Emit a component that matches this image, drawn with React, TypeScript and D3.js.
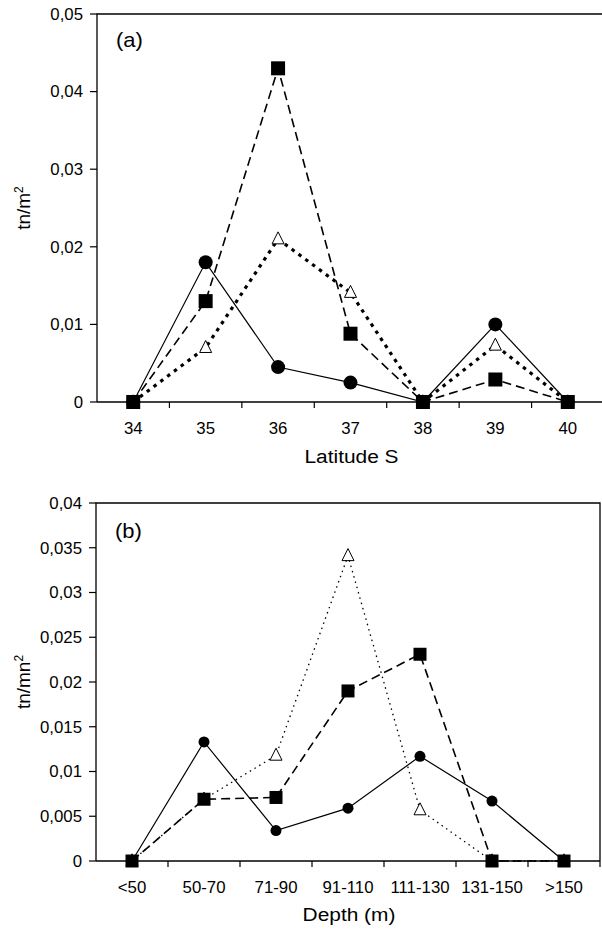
import React from "react";
import * as d3 from "d3";

// ---------- Data ----------
const latitudes = ["34", "35", "36", "37", "38", "39", "40"];
const aCircles = [0, 0.018, 0.0045, 0.0025, 0, 0.01, 0];
const aSquares = [0, 0.013, 0.043, 0.0088, 0, 0.0029, 0];
const aTriangles = [0, 0.007, 0.021, 0.0141, 0, 0.0073, 0];
const aTicks = [0, 0.01, 0.02, 0.03, 0.04, 0.05];
const aTickLabels = ["0", "0,01", "0,02", "0,03", "0,04", "0,05"];

const depths = ["<50", "50-70", "71-90", "91-110", "111-130", "131-150", ">150"];
const bCircles = [0, 0.0133, 0.0034, 0.0059, 0.0117, 0.0067, 0];
const bSquares = [0, 0.0069, 0.0071, 0.019, 0.0231, 0, 0];
const bTriangles = [0, 0.0069, 0.0118, 0.0341, 0.0057, 0, 0];
const bTicks = [0, 0.005, 0.01, 0.015, 0.02, 0.025, 0.03, 0.035, 0.04];
const bTickLabels = ["0", "0,005", "0,01", "0,015", "0,02", "0,025", "0,03", "0,035", "0,04"];

const FONT = "'Liberation Sans', Arial, Helvetica, sans-serif";

function T(props: { x: number; y: number; size: number; sx?: number; anchor?: string; children: React.ReactNode }) {
  return (
    <text
      transform={`translate(${props.x},${props.y}) scale(${props.sx || 1.05},1)`}
      fontSize={props.size}
      textAnchor={props.anchor || "start"}
    >
      {props.children}
    </text>
  );
}

type PanelProps = {
  cats: string[];
  circles: number[];
  squares: number[];
  triangles: number[];
  ticks: number[];
  tickLabels: string[];
  yMax: number;
  left: number;
  right: number;
  top: number;
  bottom: number;
  tag: string;
  tagY: number;
  xTitle: string;
  xTitleY: number;
  yTitle: string;
  yTitleSup: string;
  triDash: string;
  triWidth: number;
  sq: number;
  circR: number;
  tri: number;
};

function Panel(p: PanelProps) {
  const x = d3.scaleBand<string>().domain(p.cats).range([p.left, p.right]);
  const y = d3.scaleLinear().domain([0, p.yMax]).range([p.bottom, p.top]);
  const cx = (c: string) => (x(c) as number) + x.bandwidth() / 2;
  const line = (vals: number[]) =>
    d3.line<number>().x((_, i) => cx(p.cats[i])).y((v) => y(v))(vals) as string;
  const boundaries = p.cats.map((c) => (x(c) as number) + x.bandwidth());
  const tri = p.tri;
  const triPath = (px: number, py: number) =>
    `M${px},${py - tri * 0.6}L${px + tri * 0.5},${py + tri * 0.4}L${px - tri * 0.5},${py + tri * 0.4}Z`;
  const midY = (p.top + p.bottom) / 2;
  return (
    <g fontFamily={FONT} fill="#000">
      <path
        d={`M${p.left},${p.bottom}V${p.top}H${p.right}V${p.bottom}`}
        fill="none"
        stroke="#000"
        strokeWidth={1.3}
      />
      <line x1={p.left} x2={p.right} y1={p.bottom} y2={p.bottom} stroke="#000" strokeWidth={1.3} />
      {p.ticks.map((t, i) => (
        <g key={"yt" + i}>
          <line x1={p.left - 7} x2={p.left} y1={y(t)} y2={y(t)} stroke="#000" strokeWidth={1.2} />
          <T x={p.left - 14} y={y(t) + 5.8} size={16} anchor="end">
            {p.tickLabels[i]}
          </T>
        </g>
      ))}
      {boundaries.map((b, i) => (
        <line key={"xt" + i} x1={b} x2={b} y1={p.bottom} y2={p.bottom + 6} stroke="#000" strokeWidth={1.2} />
      ))}
      {p.cats.map((c) => (
        <T key={"xl" + c} x={cx(c)} y={p.bottom + 32} size={16} anchor="middle">
          {c}
        </T>
      ))}
      <T x={(p.left + p.right) / 2 + 1} y={p.xTitleY} size={19} sx={1.1} anchor="middle">
        {p.xTitle}
      </T>
      <text transform={`translate(30,${midY}) rotate(-90)`} textAnchor="middle" fontSize={19}>
        {p.yTitle}
        <tspan dy={-7} fontSize={12}>
          {p.yTitleSup}
        </tspan>
      </text>
      <T x={p.left + 19} y={p.tagY} size={20} sx={1.1}>
        {p.tag}
      </T>
      <path d={line(p.circles)} fill="none" stroke="#000" strokeWidth={1.2} />
      <path
        d={line(p.triangles)}
        fill="none"
        stroke="#000"
        strokeWidth={p.triWidth}
        strokeDasharray={p.triDash}
      />
      <path d={line(p.squares)} fill="none" stroke="#000" strokeWidth={1.6} strokeDasharray="9,5" />
      {p.circles.map((v, i) => (
        <circle key={"c" + i} cx={cx(p.cats[i])} cy={y(v)} r={p.circR} fill="#000" />
      ))}
      {p.triangles.map((v, i) => (
        <path key={"t" + i} d={triPath(cx(p.cats[i]), y(v))} fill="#fff" stroke="#000" strokeWidth={1} />
      ))}
      {p.squares.map((v, i) => (
        <rect
          key={"s" + i}
          x={cx(p.cats[i]) - p.sq / 2}
          y={y(v) - p.sq / 2}
          width={p.sq}
          height={p.sq}
          fill="#000"
        />
      ))}
    </g>
  );
}

export default function App() {
  return (
    <svg
      width={602}
      height={931}
      style={{ position: "absolute", left: 0, top: 0, background: "#fff" }}
    >
      <rect width={602} height={931} fill="#fff" />
      <Panel
        cats={latitudes}
        circles={aCircles}
        squares={aSquares}
        triangles={aTriangles}
        ticks={aTicks}
        tickLabels={aTickLabels}
        yMax={0.05}
        left={97}
        right={604}
        top={14}
        bottom={402}
        tag="(a)"
        tagY={47}
        xTitle="Latitude S"
        xTitleY={463}
        yTitle="tn/m"
        yTitleSup="2"
        triDash="3.5,5"
        triWidth={3.2}
        sq={14}
        circR={7}
        tri={12}
      />
      <Panel
        cats={depths}
        circles={bCircles}
        squares={bSquares}
        triangles={bTriangles}
        ticks={bTicks}
        tickLabels={bTickLabels}
        yMax={0.04}
        left={96}
        right={600}
        top={503}
        bottom={861}
        tag="(b)"
        tagY={538}
        xTitle="Depth (m)"
        xTitleY={921}
        yTitle="tn/mn"
        yTitleSup="2"
        triDash="1.5,4"
        triWidth={1.3}
        sq={13}
        circR={5.5}
        tri={12}
      />
    </svg>
  );
}
